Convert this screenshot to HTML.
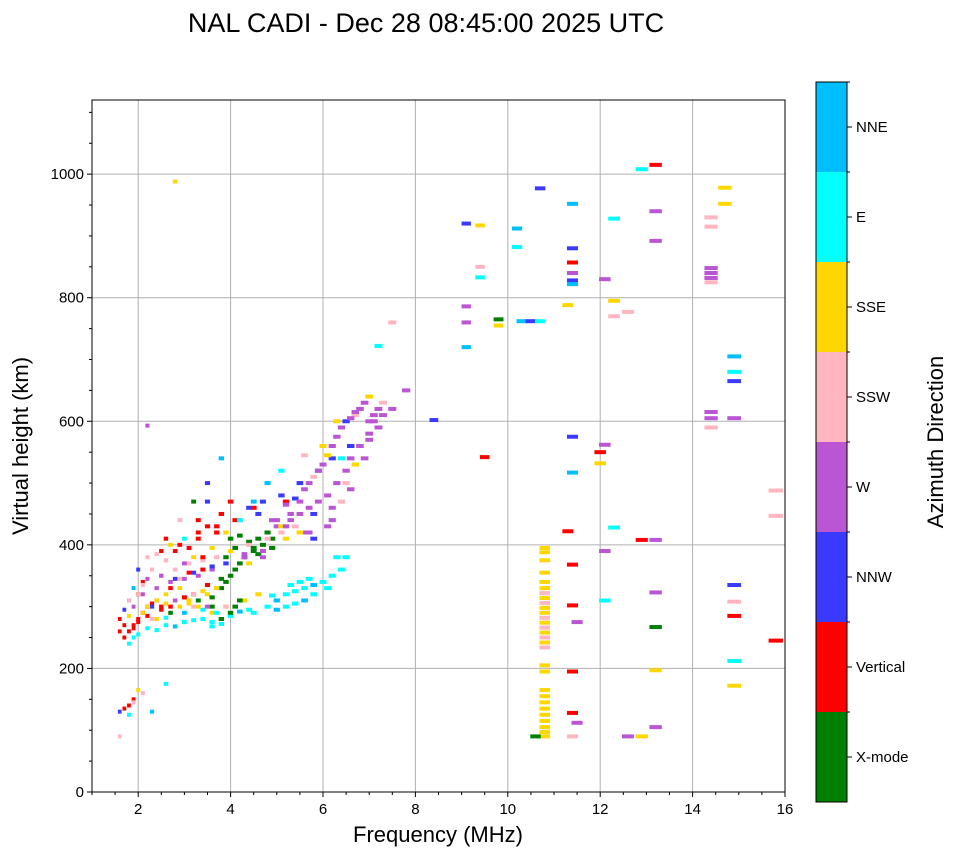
<!DOCTYPE html>
<html><head><meta charset="utf-8"><style>
body{margin:0;background:#fff;font-family:"Liberation Sans",sans-serif}
svg text{font-family:"Liberation Sans",sans-serif}
</style></head><body>
<svg id="c" width="958" height="857" xmlns="http://www.w3.org/2000/svg">
<text x="426" y="32" font-size="27" text-anchor="middle">NAL CADI - Dec 28 08:45:00 2025 UTC</text>
<g id="grid"></g><g id="marks"></g><g id="axes"></g><g id="cbar"></g>
<text x="438" y="842" font-size="22" text-anchor="middle">Frequency (MHz)</text>
<text transform="translate(28,446) rotate(-90)" font-size="22" text-anchor="middle">Virtual height (km)</text>
<text transform="translate(943,442) rotate(-90)" font-size="22" text-anchor="middle">Azimuth Direction</text>
</svg>
<script>
const dirLabels=["X-mode","Vertical","NNW","W","SSW","SSE","E","NNE"];
const dirColors=["#008000","#ff0000","#3a3aff","#ba55d3","#ffb6c1","#ffd700","#00ffff","#00bfff"];
const xTicks=[2,4,6,8,10,12,14,16];
const yTicks=[0,200,400,600,800,1000];
const freqs=[2.8,9.1,9.1,9.1,9.1,9.4,9.4,9.4,9.5,9.8,9.8,10.2,10.2,10.3,10.5,10.7,10.7,
10.8,10.8,10.8,10.8,10.8,10.8,10.8,10.8,10.8,10.8,10.8,10.8,10.8,10.8,10.8,10.8,10.8,10.8,10.8,10.8,10.8,10.8,10.8,10.8,10.8,10.8,10.8,10.8,10.8,10.6,
11.3,11.3,11.4,11.4,11.4,11.4,11.4,11.4,11.4,11.4,11.4,11.4,11.4,11.4,11.4,11.5,11.5,
12.0,12.0,12.1,12.1,12.1,12.1,12.3,12.3,12.3,12.3,12.6,12.6,12.9,12.9,12.9,13.2,13.2,13.2,13.2,13.2,13.2,13.2,13.2,
14.4,14.4,14.4,14.4,14.4,14.4,14.4,14.4,14.4,14.7,14.7,14.9,14.9,14.9,14.9,14.9,14.9,14.9,14.9,14.9,15.8,15.8,15.8,8.4,7.5,7.2,2.2,
2.2,2.4,2.6,2.8,3.0,3.2,3.4,3.6,3.8,3.0,3.4,4.2,4.4,4.8,5.0,5.2,5.4,5.6,5.8,6.0,6.2,6.4,5.2,5.6,4.9,5.3,5.5,5.8,6.1,6.3,6.5,4.5,5.0,5.4,5.7,3.6,2.6,4.0,1.8,1.9,2.0,
5.0,5.3,5.5,5.7,5.9,6.1,6.3,6.5,6.6,6.8,7.0,7.1,7.3,7.5,7.8,6.4,6.6,6.9,7.2,5.6,5.8,6.2,6.5,6.7,7.0,
4.0,4.1,4.2,4.3,4.5,4.7,4.9,3.9,4.1,4.4,4.6,3.8,3.6,4.2,4.0,
1.7,1.8,1.9,2.0,2.1,2.2,1.8,2.0,2.3,2.5,1.6,1.9,2.1,2.4,2.7,3.0,3.2,3.5,2.8,3.1,3.4,
2.2,2.4,2.6,2.9,3.1,3.3,3.5,3.7,2.3,2.7,3.2,3.6,3.9,4.3,4.6,
2.5,2.8,3.1,3.4,3.7,4.0,4.4,4.8,5.1,5.4,3.3,3.8,4.5,5.2,
2.0,2.2,2.5,2.9,3.3,3.7,4.1,4.4,4.7,5.1,5.5,5.9,6.2,6.6,2.7,3.0,3.5,
1.6,1.7,1.8,1.9,2.0,2.3,1.6,1.8,2.6,1.9,2.1,
3.2,3.6,3.9,4.2,4.5,4.8,5.1,5.6,6.0,6.3,6.7,7.0,
2.1,2.4,2.7,3.0,3.3,3.6,3.9,4.3,4.7,5.2,5.7,6.2,
1.6,1.7,1.7,1.8,1.8,1.9,1.9,2.0,2.0,2.1,2.1,2.2,2.2,2.3,2.3,2.4,2.4,2.5,2.5,2.6,2.6,2.7,2.7,2.8,2.8,2.9,2.9,3.0,3.0,3.1,3.1,3.2,3.2,3.3,3.3,3.4,3.4,3.5,3.5,3.6,3.6,3.7,3.7,3.8,3.8,3.9,3.9,4.0,4.0,4.1,4.1,4.2,4.2,4.3,4.4,4.5,4.6,4.7,4.8,4.9,5.0,5.1,5.2,5.3,5.4,5.5,5.6,5.7,5.8,5.9,6.0,6.1,6.2,6.3,6.4,6.5,6.6,6.7,6.8,6.9,7.0,7.1,7.2,7.3,
4.6,4.9,5.2,5.5,5.8,6.1,6.4,3.8,3.5,3.2,2.9,2.6];
const heights=[988,920,786,760,720,917,850,833,542,765,755,912,882,762,762,977,762,
395,388,375,355,340,330,322,314,306,298,290,282,274,266,258,250,242,234,205,195,165,155,145,135,125,115,105,97,90,90,
788,422,952,880,857,840,828,822,575,517,368,302,195,128,90,275,112,
550,532,830,562,390,310,928,795,770,428,777,90,1008,408,90,1015,940,892,408,323,267,197,105,
930,915,848,840,832,825,615,605,590,978,952,705,680,665,605,335,308,285,212,172,488,447,245,602,760,722,593,
265,262,270,268,275,278,280,275,272,290,295,292,295,300,310,320,325,330,335,340,350,360,300,310,318,335,340,320,330,380,380,290,295,305,345,268,282,285,240,250,255,
430,440,450,460,470,480,500,520,540,560,580,600,610,620,650,470,490,540,590,420,450,460,500,530,570,
350,360,370,380,390,400,410,340,395,405,385,330,300,415,410,
250,260,270,280,290,300,310,320,305,300,260,330,340,310,300,315,320,335,345,355,360,
300,310,320,330,310,300,320,330,280,290,300,290,300,310,320,
350,360,370,375,380,390,400,410,420,430,440,450,460,470,
360,380,390,400,420,430,440,460,470,480,500,520,540,560,400,410,470,
130,135,140,150,165,130,90,125,175,145,160,
380,395,420,440,470,500,520,545,560,600,610,640,
320,330,340,345,350,360,370,380,390,410,420,440,
280,295,270,285,310,265,300,275,320,290,335,285,345,300,360,280,385,295,350,305,375,290,330,310,390,300,345,315,370,305,395,320,355,310,410,325,380,300,430,315,365,290,420,280,345,300,380,290,470,300,395,310,440,385,370,395,410,380,420,395,440,430,465,450,475,470,490,500,510,520,530,545,560,575,590,600,605,615,620,630,600,610,620,630,
450,440,430,420,410,430,540,540,500,470,440,410];
const dirs=[5,2,3,3,7,5,4,6,1,0,5,7,6,7,2,2,6,
5,5,5,5,5,5,4,5,4,5,5,4,5,4,5,4,5,4,5,5,5,5,5,5,5,5,5,5,5,0,
5,1,7,2,1,3,2,7,2,7,1,1,1,1,4,3,3,
1,5,3,3,3,6,6,5,4,6,4,3,6,1,5,1,3,3,3,3,0,5,3,
4,4,3,3,3,4,3,3,4,5,5,7,6,2,3,2,4,1,6,5,4,4,1,2,4,6,3,
6,6,6,7,6,6,6,6,6,7,6,7,6,6,7,6,6,6,7,6,6,6,6,7,6,6,6,6,6,6,6,6,7,6,6,6,6,6,6,6,6,
3,3,3,3,3,3,3,3,3,3,3,3,3,3,3,4,3,3,3,3,2,3,4,5,3,
0,0,0,0,0,0,0,0,0,0,0,0,0,0,0,
1,1,1,1,1,1,2,1,1,1,1,7,1,1,1,1,1,1,2,1,1,
5,5,5,5,5,5,5,5,4,4,4,5,5,5,5,
4,4,4,4,4,5,4,4,4,4,1,1,1,1,
2,4,1,1,1,1,1,2,2,2,2,2,2,2,5,6,2,
2,1,1,1,5,7,4,6,6,4,4,
5,5,5,2,7,7,6,4,5,5,4,5,
3,3,3,3,3,3,2,3,3,5,3,3,
1,2,1,5,4,1,3,1,4,5,4,1,3,2,4,5,4,1,3,5,4,0,1,3,1,5,4,1,3,5,1,4,2,0,1,5,1,3,1,0,2,6,1,0,0,4,0,0,1,0,0,0,6,3,5,0,0,3,0,0,3,5,3,3,2,3,3,3,4,3,3,5,3,3,3,2,3,3,3,3,3,3,3,4,
2,3,3,5,2,3,6,7,2,0,4,1];

const ns="http://www.w3.org/2000/svg";
const X0=92,X1=785,Y0=792,Y1=100;
const xs=f=>X0+(f-1)/15*(X1-X0);
const ys=h=>Y0-h/1120*(Y0-Y1);
function mk(t,a,p){const e=document.createElementNS(ns,t);for(const k in a)e.setAttribute(k,a[k]);p.appendChild(e);return e;}
const grid=document.getElementById('grid'),axes=document.getElementById('axes'),marks=document.getElementById('marks'),cbar=document.getElementById('cbar');
xTicks.forEach(t=>{const x=xs(t);
 const g=mk('line',{x1:x,x2:x,y1:Y1,y2:Y0,stroke:'#b0b0b0','stroke-width':1},grid);
 
 
 mk('line',{x1:x,x2:x,y1:Y0,y2:Y0+5,stroke:'#000'},axes);
 const tx=mk('text',{x:x,y:Y0+22,'font-size':15,'text-anchor':'middle'},axes);tx.textContent=t;
 
 });
for(let f=1;f<=16;f+=0.5){if(f%2)mk('line',{x1:xs(f),x2:xs(f),y1:Y0,y2:Y0+3,stroke:'#000'},axes);}
yTicks.forEach(t=>{const y=ys(t);
 if(t>0){const g=mk('line',{x1:X0,x2:X1,y1:y,y2:y,stroke:'#b0b0b0','stroke-width':1},grid);
 
 }
 mk('line',{x1:X0-5,x2:X0,y1:y,y2:y,stroke:'#000'},axes);
 const tx=mk('text',{x:X0-8,y:y+5,'font-size':15,'text-anchor':'end'},axes);tx.textContent=t;
 
 });
for(let h=0;h<=1100;h+=50){if(h%200)mk('line',{x1:X0-3,x2:X0,y1:ys(h),y2:ys(h),stroke:'#000'},axes);}
const fr=mk('rect',{x:X0,y:Y1,width:X1-X0,height:Y0-Y1,fill:'none',stroke:'#000'},axes);


for(let i=0;i<freqs.length;i++){const w=2.5+0.75*freqs[i];
 const r=mk('rect',{x:xs(freqs[i])-w/2,y:ys(heights[i])-2,width:w,height:4,fill:dirColors[dirs[i]]},marks);
 
 }
const CX=816,CW=31,CT=82,SH=90;
dirLabels.forEach((l,i)=>{const y=CT+(7-i)*SH;
 const r=mk('rect',{x:CX,y:y,width:CW,height:SH,fill:dirColors[i]},cbar);
 
 
 mk('line',{x1:CX+CW,x2:CX+CW+5,y1:y+SH/2,y2:y+SH/2,stroke:'#000'},cbar);
 const t=mk('text',{x:CX+CW+9,y:y+SH/2+5,'font-size':15},cbar);t.textContent=l;
 
 
 mk('line',{x1:CX+CW,x2:CX+CW+3,y1:y,y2:y,stroke:'#000'},cbar);});
mk('rect',{x:CX,y:CT,width:CW,height:SH*8,fill:'none',stroke:'#000'},cbar);
</script>
</body></html>
